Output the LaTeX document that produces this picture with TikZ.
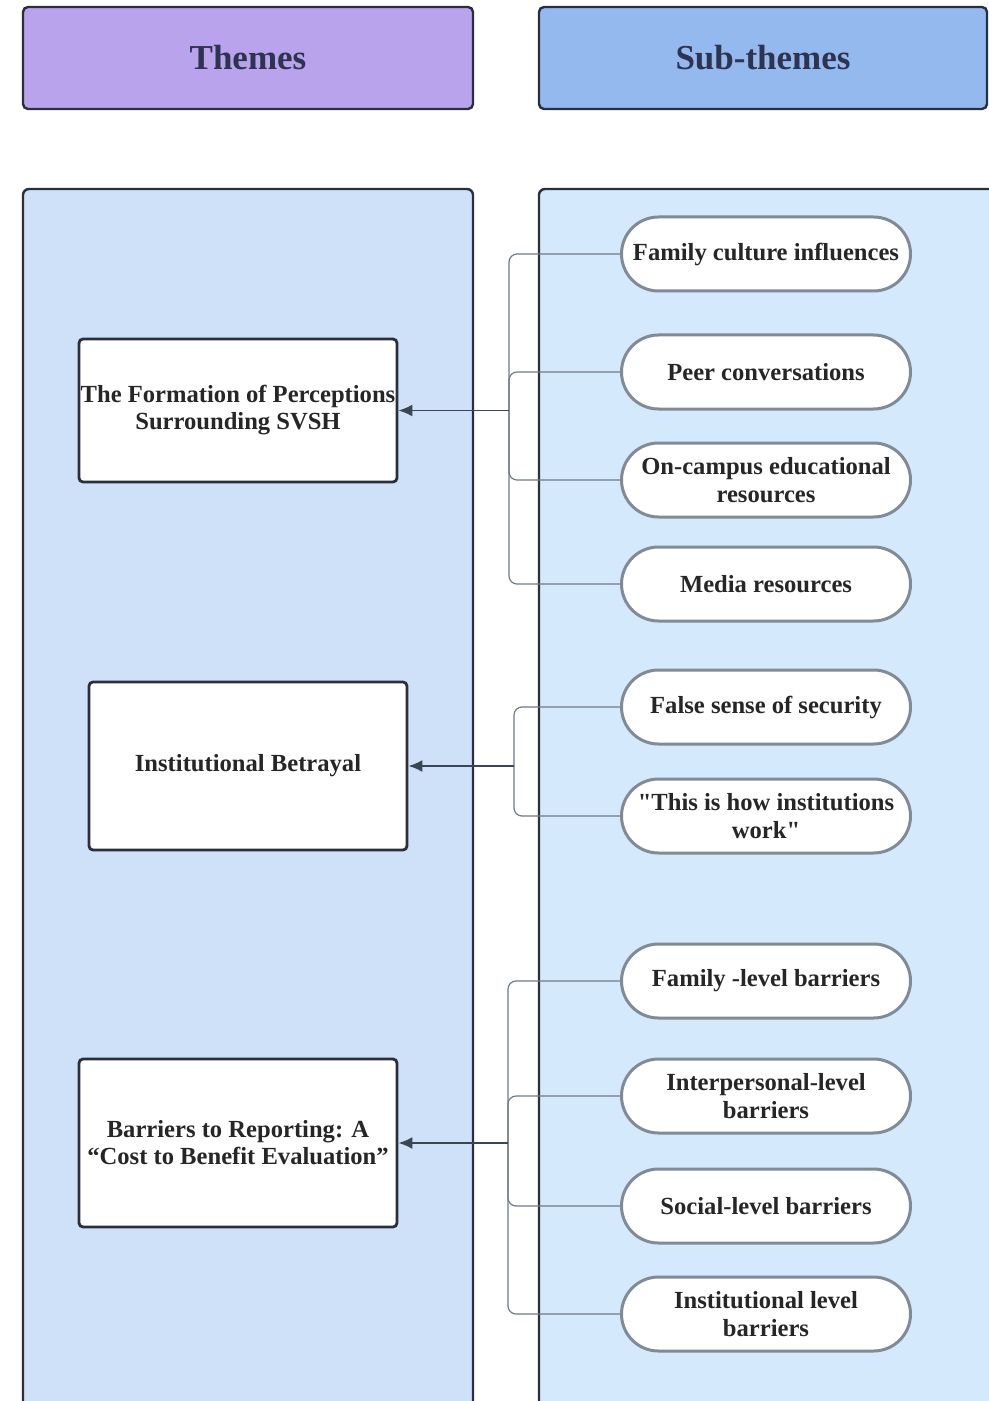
\documentclass[tikz,border=0pt]{standalone}
\usepackage{fontspec}
\setmainfont{Liberation Serif}[Ligatures=TeXOff]
\usetikzlibrary{arrows.meta,positioning}
\definecolor{edgedark}{HTML}{2B2F3C}
\definecolor{headtext}{HTML}{2E3350}
\definecolor{themefill}{HTML}{B9A3EC}
\definecolor{subfill}{HTML}{94B9EE}
\definecolor{leftpanel}{HTML}{CFE1F8}
\definecolor{rightpanel}{HTML}{D4E9FB}
\definecolor{pillgray}{HTML}{808B97}
\definecolor{linkgray}{HTML}{6F7A88}
\definecolor{arrowdark}{HTML}{3A4556}

\begin{document}
\begin{tikzpicture}[x=0.5pt, y=-0.5pt,
		header/.style={draw=edgedark, line width=1.2pt, rounded corners=2.5pt, minimum width=225pt,
			minimum height=51pt, font=\fontsize{17.5}{20}\selectfont\bfseries, text=headtext},
		theme/.style={draw=edgedark, line width=1.4pt, fill=white, rounded corners=2pt, minimum width=159pt,
			align=center, inner sep=0pt, font=\fontsize{12.3}{13.5}\selectfont\bfseries, text=black!85},
		subtheme/.style={draw=pillgray, line width=1.5pt, fill=white, rounded corners=18.5pt, minimum width=144.5pt,
			minimum height=37pt, align=center, inner sep=0pt, font=\fontsize{12.3}{14}\selectfont\bfseries, text=black!85},
		link/.style={draw=linkgray, line width=0.6pt, rounded corners=4pt},
		arrowline/.style={draw=arrowdark, line width=0.9pt, ->},
		>={Latex[length=7pt,width=6pt]}]
	\useasboundingbox (0,0) rectangle (989,1401);
	\clip (0,0) rectangle (989,1401);
	% column headers
	\node[header, fill=themefill] (themes) at (248,58) {Themes};
	\node[header, fill=subfill, minimum width=224pt] (subthemes) at (763,58) {Sub-themes};
	% columns
	\draw[fill=leftpanel, draw=edgedark, line width=1.2pt, rounded corners=3pt] (23,189) rectangle (473,1430);
	\draw[fill=rightpanel, draw=edgedark, line width=1.2pt, rounded corners=3pt] (539,189) rectangle (1000,1430);
	% themes
	\node[theme, minimum height=71.5pt] (t1) at (238,410.5) {The Formation of Perceptions\\Surrounding SVSH};
	\node[theme, minimum height=84pt] (t2) at (248,766) {Institutional Betrayal};
	\node[theme, minimum height=84pt] (t3) at (238,1143) {Barriers to Reporting: A\\“Cost to Benefit Evaluation”};
	\coordinate (b1) at (509,410.5);
	\coordinate (b2) at (514,766);
	\coordinate (b3) at (508,1143);
	% sub-themes
	\foreach \n/\y/\t/\b in {
		s1/254/{Family culture influences}/b1,
		s2/372/{Peer conversations}/b1,
		s3/480/{On-campus educational\\resources}/b1,
		s4/584/{Media resources}/b1,
		s5/707/{False sense of security}/b2,
		s6/816/{"This is how institutions\\work"}/b2,
		s7/981/{Family -level barriers}/b3,
		s8/1096/{Interpersonal-level\\barriers}/b3,
		s9/1206/{Social-level barriers}/b3,
		s10/1314/{Institutional level\\barriers}/b3}
		{
		\draw[link] (\b) |- (766-144.5,\y);
		\node[subtheme] (\n) at (766,\y) {\t};
		}
	\foreach \b/\t in {b1/t1, b2/t2, b3/t3}
		\draw[arrowline] (\b) -- (\b -| \t.east);
\end{tikzpicture}
\end{document}
